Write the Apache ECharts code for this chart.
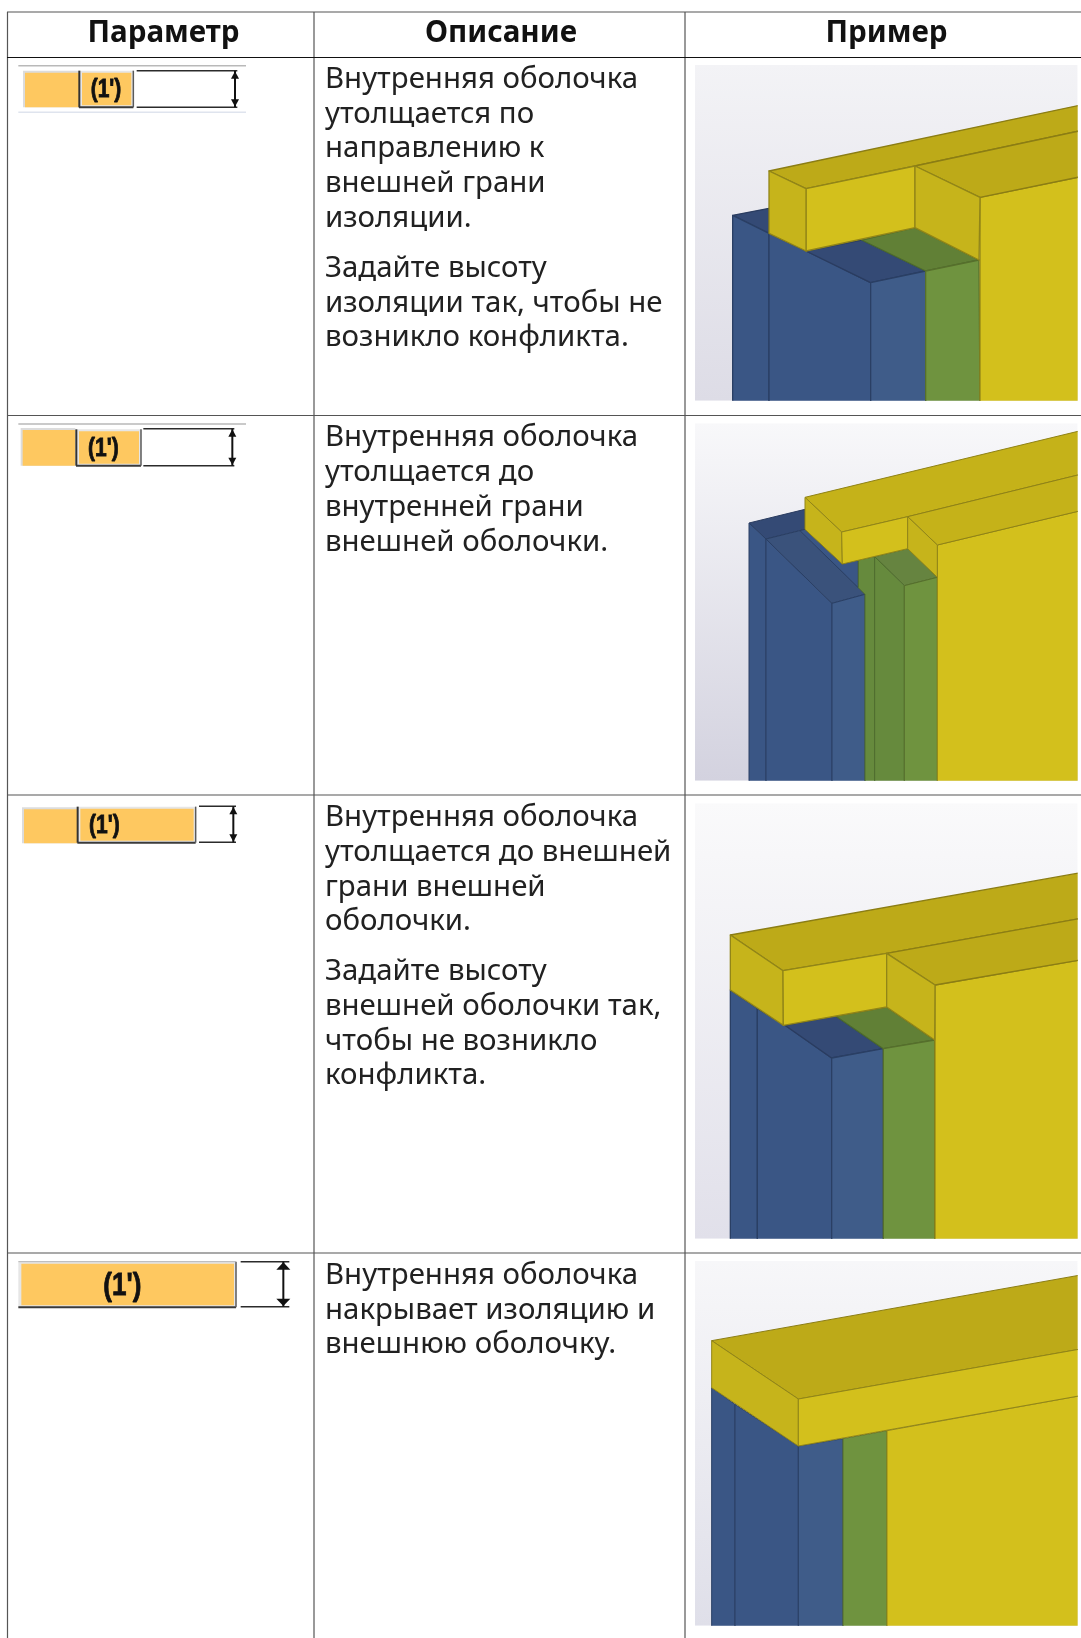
<!DOCTYPE html>
<html>
<head>
<meta charset="utf-8">
<style>
  html, body { margin: 0; padding: 0; background: #fff; }
  #chart { width: 1081px; height: 1638px; }
</style>
<script src="https://cdn.jsdelivr.net/npm/echarts@6/dist/echarts.min.js"></script>
</head>
<body>
<div id="chart"></div>
<script>
const FONT = '"Noto Sans"'
const headers = ['Параметр', 'Описание', 'Пример']
const headerX = [163.5, 501, 886.5]
const columnLines = [7.5, 314, 685]
const rowLines = [12, 57.5, 415.5, 795, 1253]

// [y of text line centre, text]
const rowText1 = [[79.5, 'Внутренняя оболочка'], [114.5, 'утолщается по'], [148.5, 'направлению к'], [183.5, 'внешней грани'], [218.5, 'изоляции.'], [268.5, 'Задайте высоту'], [303.5, 'изоляции так, чтобы не'], [337.5, 'возникло конфликта.']]
const rowText2 = [[437.5, 'Внутренняя оболочка'], [472.5, 'утолщается до'], [507.5, 'внутренней грани'], [542.5, 'внешней оболочки.']]
const rowText3 = [[817.5, 'Внутренняя оболочка'], [852.5, 'утолщается до внешней'], [887.5, 'грани внешней'], [921.5, 'оболочки.'], [971.5, 'Задайте высоту'], [1006.5, 'внешней оболочки так,'], [1041.5, 'чтобы не возникло'], [1075.5, 'конфликта.']]
const rowText4 = [[1275.5, 'Внутренняя оболочка'], [1310.5, 'накрывает изоляцию и'], [1344.5, 'внешнюю оболочку.']]

// colours of the model faces: [fill, edge]
const blueSide = ['#3a5685', '#2a3f64']
const blueTop = ['#344a75', '#2a3c60']
const blueLit = ['#3f5c89', '#2a3f64']
const greenTop = ['#618036', '#4c6a2c']
const greenMid = ['#668a3d', '#4f6c2e']
const greenLit = ['#6f933f', '#566f2c']
const yellowTop = ['#bdaa18', '#8b7d14']
const yellowTop2 = ['#c5b219', '#8f8217']
const yellowSide = ['#c6b41b', '#918518']
const yellowLit = ['#d3c01c', '#918518']

// every picture: [left, top, right, bottom] of its frame, read at 3x from the crop origin
const pictureOrigins = [[680, 50], [680, 410], [680, 790], [680, 1250]]
const pictureFrames = [[45, 45, 1193, 1052], [45, 40, 1193, 1112], [45, 40, 1193, 1346], [45, 33, 1193, 1127]]
const pictureShades = [['#f3f3f6', '#dddce6'], ['#f8f8fa', '#d3d2df'], ['#fafafb', '#e1e0ea'], ['#f7f7f9', '#dfdfe9']]
const pictureEdgeWidth = [1.3, 1, 1.3, 1]

const facesPicture1 = [
  [blueTop, [158, 496, 267, 475, 267, 550]],
  [blueSide, [158, 496, 267, 550, 267, 1052, 158, 1052]],
  [blueSide, [267, 550, 378, 603, 572, 698, 572, 1052, 267, 1052]],
  [blueTop, [378, 603, 545, 570, 737, 663, 572, 698]],
  [blueLit, [572, 698, 737, 663, 737, 1052, 572, 1052]],
  [greenTop, [545, 570, 705, 533, 897, 630, 737, 663]],
  [greenLit, [737, 663, 897, 630, 900, 1052, 737, 1052]],
  [yellowLit, [900, 442, 1193, 380, 1193, 1052, 900, 1052]],
  [yellowTop, [267, 363, 1193, 165, 1193, 242, 705, 348, 378, 416]],
  [yellowTop, [705, 348, 1193, 242, 1193, 380, 900, 442]],
  [yellowLit, [378, 416, 705, 348, 705, 533, 378, 603]],
  [yellowSide, [267, 363, 378, 416, 378, 603, 267, 550]],
  [yellowSide, [705, 348, 900, 442, 897, 630, 705, 533]]
]
const facesPicture2 = [
  [blueTop, [207, 339, 375, 298, 375, 358, 258, 387]],
  [blueSide, [207, 339, 258, 387, 258, 1112, 207, 1112]],
  [blueSide, [258, 387, 456, 580, 456, 1112, 258, 1112]],
  [['#3a527b', '#2a3f64'], [258, 387, 360, 362, 555, 553, 456, 580]],
  [blueSide, [360, 362, 375, 358, 487, 462, 535, 450, 535, 533]],
  [blueLit, [456, 580, 555, 553, 555, 1112, 456, 1112]],
  [greenMid, [535, 450, 584, 440, 584, 1112, 555, 1112, 555, 553, 535, 533]],
  [['#668440', '#4f6c2e'], [584, 440, 683, 416, 772, 502, 673, 527]],
  [greenMid, [584, 440, 673, 527, 673, 1112, 584, 1112]],
  [greenLit, [673, 527, 772, 502, 772, 1112, 673, 1112]],
  [yellowLit, [772, 405, 1193, 302, 1193, 1112, 772, 1112]],
  [yellowTop2, [375, 262, 1193, 62, 1193, 193, 683, 320, 485, 366]],
  [yellowTop2, [683, 320, 1193, 193, 1193, 302, 772, 405]],
  [yellowSide, [375, 262, 485, 366, 487, 462, 375, 358]],
  [yellowLit, [485, 366, 683, 320, 683, 416, 487, 462]],
  [yellowSide, [683, 320, 772, 405, 772, 502, 683, 416]]
]
const facesPicture3 = [
  [blueSide, [151, 600, 232, 655, 232, 1346, 151, 1346]],
  [blueSide, [232, 655, 315, 706, 455, 804, 455, 1346, 232, 1346]],
  [blueTop, [315, 706, 467, 678, 610, 776, 455, 804]],
  [blueLit, [455, 804, 610, 776, 610, 1346, 455, 1346]],
  [greenTop, [467, 678, 620, 651, 764, 750, 610, 776]],
  [greenLit, [610, 776, 764, 750, 764, 1346, 610, 1346]],
  [yellowLit, [765, 585, 1193, 510, 1193, 1346, 765, 1346]],
  [yellowTop, [151, 435, 1193, 248, 1193, 385, 620, 490, 309, 542]],
  [yellowTop, [620, 490, 1193, 385, 1193, 510, 765, 585]],
  [yellowSide, [151, 435, 309, 542, 310, 706, 151, 600]],
  [yellowLit, [309, 542, 620, 490, 620, 651, 310, 706]],
  [yellowSide, [620, 490, 765, 585, 764, 750, 620, 651]]
]
const facesPicture4 = [
  [blueSide, [95, 413, 165, 463, 165, 1127, 95, 1127]],
  [blueSide, [165, 463, 355, 588, 355, 1127, 165, 1127]],
  [blueLit, [355, 588, 489, 566, 489, 1127, 355, 1127]],
  [greenLit, [489, 566, 621, 542, 621, 1127, 489, 1127]],
  [yellowLit, [621, 542, 1193, 437, 1193, 1127, 621, 1127]],
  [yellowTop, [95, 272, 1193, 75, 1193, 297, 355, 447]],
  [yellowSide, [95, 272, 355, 447, 355, 588, 95, 413]],
  [yellowLit, [355, 447, 1193, 297, 1193, 437, 355, 588]]
]
const pictureFaces = [facesPicture1, facesPicture2, facesPicture3, facesPicture4]

// parameter icons, read at 3x from the crop origin
const iconOriginY = [0, 410, 790, 1250]
const iconBar = [[75, 237, 218, 322], [68, 226, 60, 167], [72, 232, 58, 160], null]
const iconButton = [[237, 400, 212, 322], [228, 423, 58, 167], [232, 587, 50, 158], [55, 708, 35, 172]]
const iconLabelAt = [[318, 270, 21], [310, 118, 21], [313, 108, 21], [367, 110, 26]]
const iconDim = [[410, 712, 212, 322, 705], [430, 703, 56, 167, 697], [597, 708, 49, 157, 700], [722, 868, 35, 170, 850]]
const iconRules = [[55, 738, 197, 337], [55, 738, 42, null], null, null]
const iconLabel = "(1')"

const chart = echarts.init(document.getElementById('chart'))

const renderPicture = (params, api) => {
  const i = params.dataIndex
  const [ox, oy] = pictureOrigins[i]
  const at = (x, y) => api.coord([ox + x / 3, oy + y / 3])
  const [l, t, r, b] = pictureFrames[i]
  const tl = at(l, t)
  const br = at(r, b)
  const frame = { x: tl[0], y: tl[1], width: br[0] - tl[0], height: br[1] - tl[1] }
  const children = [{
    type: 'rect',
    shape: frame,
    style: {
      fill: new echarts.graphic.LinearGradient(0, 0, 0, 1, [
        { offset: 0, color: pictureShades[i][0] },
        { offset: 1, color: pictureShades[i][1] }
      ])
    }
  }]
  pictureFaces[i].forEach(([colors, pts]) => {
    const points = []
    for (let k = 0; k < pts.length; k += 2) {
      // faces cut by the frame run a little past it so their edge stroke gets clipped away
      const x = pts[k] >= r ? r + 9 : pts[k]
      const y = pts[k + 1] >= b ? b + 9 : pts[k + 1]
      points.push(at(x, y))
    }
    children.push({
      type: 'polygon',
      shape: { points },
      style: { fill: colors[0], stroke: colors[1], lineWidth: pictureEdgeWidth[i], lineJoin: 'round' }
    })
  })
  return { type: 'group', clipPath: { type: 'rect', shape: frame }, children }
}

const renderIcon = (params, api) => {
  const i = params.dataIndex
  const oy = iconOriginY[i]
  const at = (x, y) => api.coord([x / 3, oy + y / 3])
  const box = (x0, x1, y0, y1, style) => {
    const a = at(x0, y0)
    const b = at(x1, y1)
    return { type: 'rect', shape: { x: a[0], y: a[1], width: b[0] - a[0], height: b[1] - a[1] }, style }
  }
  const seg = (x0, y0, x1, y1, stroke, lineWidth) => {
    const a = at(x0, y0)
    const b = at(x1, y1)
    return { type: 'line', shape: { x1: a[0], y1: a[1], x2: b[0], y2: b[1] }, style: { stroke, lineWidth } }
  }
  const children = []
  if (iconRules[i]) {
    const [x0, x1, y0, y1] = iconRules[i]
    children.push(seg(x0, y0, x1, y0, '#b9b9b9', 1.5))
    if (y1) children.push(seg(x0, y1, x1, y1, '#dfe4ee', 1.5))
  }
  if (iconBar[i]) {
    const [x0, x1, y0, y1] = iconBar[i]
    children.push(box(x0 - 6, x1, y0 - 6, y1, { fill: '#dcdcdc' }))
    children.push(box(x0, x1, y0, y1, { fill: '#fec860' }))
  }
  const [bx0, bx1, by0, by1] = iconButton[i]
  children.push(box(bx0, bx1, by0, by1, { fill: '#e6e6e6' }))
  children.push(box(bx0 + 9, bx1 - 6, by0 + 6, by1 - 6, { fill: '#fec860' }))
  children.push(seg(bx0, by1, bx1, by1, '#3a3a3a', 2))
  children.push(seg(bx1, by0, bx1, by1, '#5a5a5a', 1.5))
  if (iconBar[i]) children.push(seg(bx0 + 1, by0, bx0 + 1, by1, '#333', 2))
  else children.push(seg(bx0, by0, bx1, by0, '#b5b5b5', 1))
  const [lx, ly, size] = iconLabelAt[i]
  const c = at(lx, ly)
  children.push({
    type: 'text',
    x: c[0],
    y: c[1],
    scaleY: 1.2,
    style: { x: 0, y: 0, text: iconLabel, fill: '#111', stroke: '#111', lineWidth: 0.7, align: 'center', verticalAlign: 'middle', font: `bold ${size}px "Liberation Sans"` }
  })
  const [dx0, dx1, dy0, dy1, ax] = iconDim[i]
  const head = i === 3 ? 21 : 12
  children.push(seg(dx0, dy0, dx1, dy0, '#2b2b2b', 1.5))
  children.push(seg(dx0, dy1, dx1, dy1, '#2b2b2b', 1.5))
  children.push(seg(ax, dy0, ax, dy1, '#111', 2))
  children.push({ type: 'polygon', shape: { points: [at(ax, dy0 + 2), at(ax - head, dy0 + 24), at(ax + head, dy0 + 24)] }, style: { fill: '#111' } })
  children.push({ type: 'polygon', shape: { points: [at(ax, dy1 - 2), at(ax - head, dy1 - 24), at(ax + head, dy1 - 24)] }, style: { fill: '#111' } })
  return { type: 'group', children }
}

const renderTable = (params, api) => {
  const children = []
  const seg = (x0, y0, x1, y1, stroke, lineWidth) => {
    const a = api.coord([x0, y0])
    const b = api.coord([x1, y1])
    return { type: 'line', shape: { x1: a[0], y1: a[1], x2: b[0], y2: b[1] }, style: { stroke, lineWidth } }
  }
  columnLines.forEach(x => children.push(seg(x, 12, x, 1638, '#555', 1.2)))
  rowLines.forEach((y, i) => children.push(seg(7, y, 1081, y, i === 1 ? '#111' : '#555', 1.2)))
  headers.forEach((text, i) => {
    const c = api.coord([headerX[i], 34])
    children.push({
      type: 'text',
      style: { x: c[0], y: c[1], text, fill: '#111', align: 'center', verticalAlign: 'middle', font: `bold 29.6px ${FONT}` }
    })
  })
  ;[rowText1, rowText2, rowText3, rowText4].forEach(rows => {
    rows.forEach(([y, text]) => {
      const c = api.coord([325, y])
      children.push({
        type: 'text',
        style: { x: c[0], y: c[1], text, fill: '#212121', align: 'left', verticalAlign: 'middle', font: `29.4px ${FONT}` }
      })
    })
  })
  return { type: 'group', children }
}

chart.setOption({
  animation: false,
  backgroundColor: '#fff',
  grid: { left: 0, right: 0, top: 0, bottom: 0 },
  xAxis: { type: 'value', min: 0, max: 1081, show: false },
  yAxis: { type: 'value', min: 0, max: 1638, inverse: true, show: false },
  series: [
    { type: 'custom', silent: true, clip: true, data: pictureOrigins.map((o, i) => [i]), renderItem: renderPicture, encode: { x: 0 } },
    { type: 'custom', silent: true, clip: true, data: iconOriginY.map((o, i) => [i]), renderItem: renderIcon, encode: { x: 0 } },
    { type: 'custom', silent: true, clip: true, data: [[0]], renderItem: renderTable, encode: { x: 0 } }
  ]
})
</script>
</body>
</html>
